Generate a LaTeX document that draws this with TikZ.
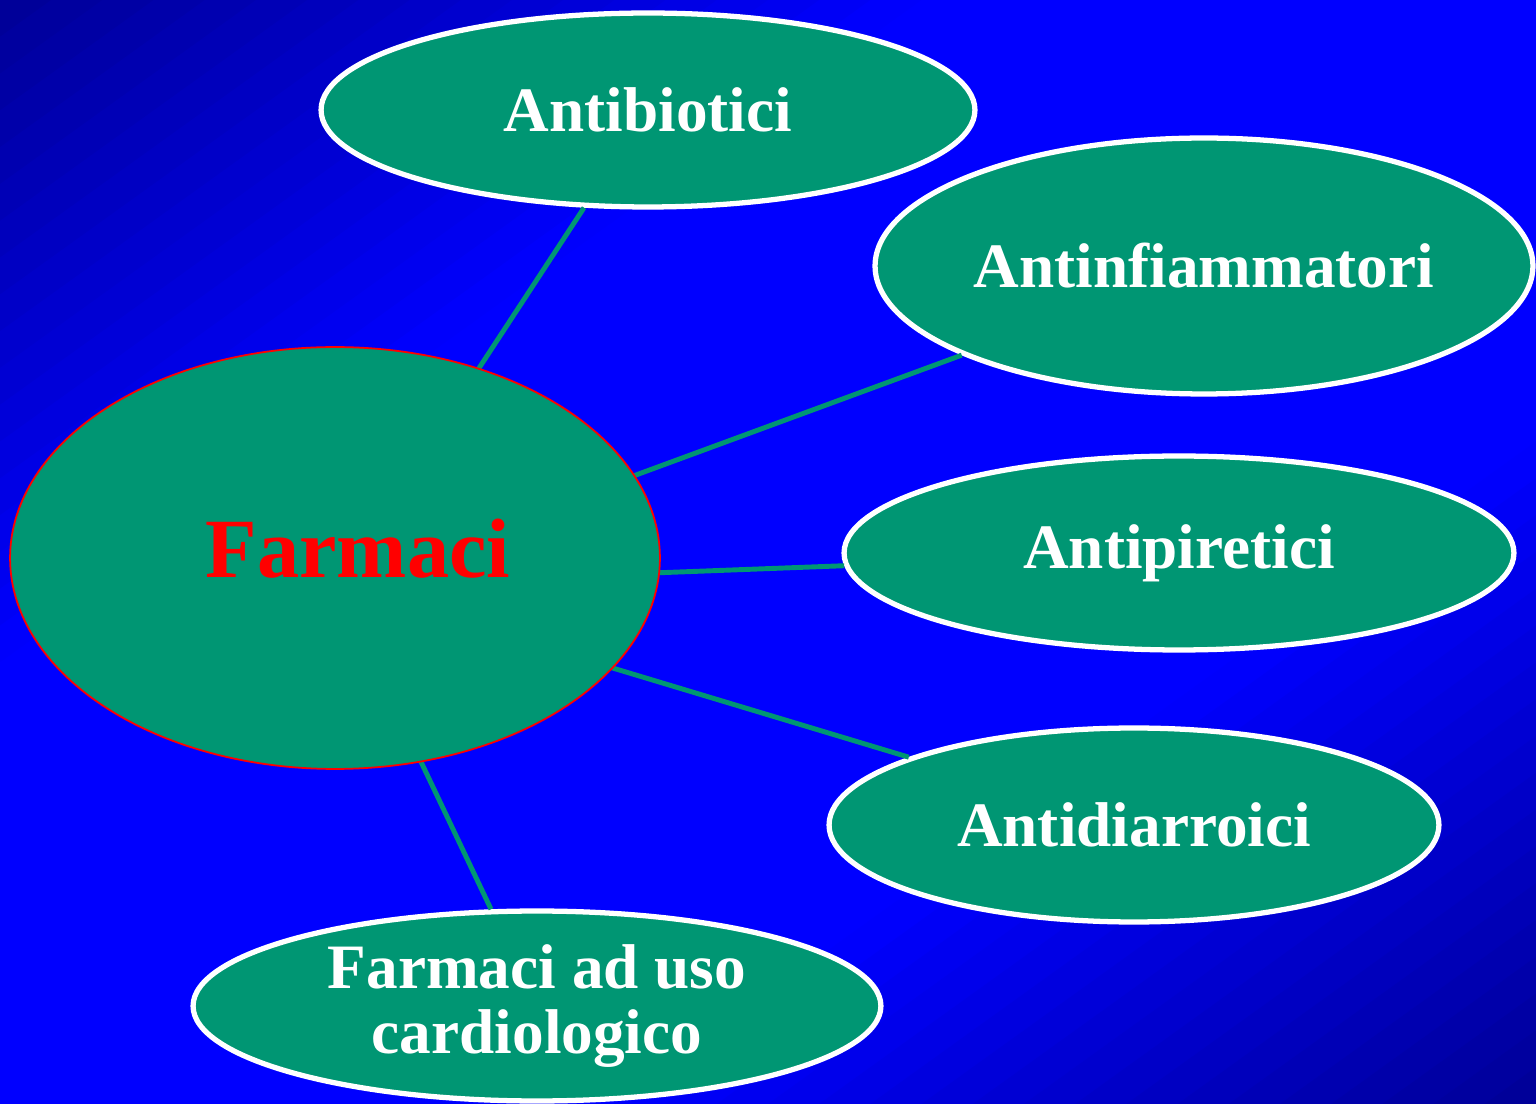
\documentclass[tikz,border=0pt]{standalone}
\usepackage{fontspec}
\setmainfont{Liberation Serif}
\usetikzlibrary{shapes.geometric}
\definecolor{farmgreen}{RGB}{0,150,115}
\definecolor{darkblue}{RGB}{0,0,150}
\definecolor{brightblue}{RGB}{0,0,255}
\tikzset{
  cat/.style={ellipse, draw=white, line width=3pt, fill=farmgreen, text=white,
    font=\fontsize{36}{37.5}\selectfont\bfseries, inner sep=0pt, align=center},
  link/.style={draw=farmgreen, line width=2.8pt}
}
\begin{document}
\begin{tikzpicture}[x=0.02cm, y=-0.02cm]
      \useasboundingbox (0,0) rectangle (1536,1104);
      \clip (0,0) rectangle (1536,1104);
      % background: dark in two corners, bright along the other diagonal
      \foreach \i in {0,...,59}{
        \pgfmathsetmacro\ca{\i/30}
        \pgfmathsetmacro\cb{(\i+1.1)/30}
        \pgfmathsetmacro\pc{min(100,100*(1-abs((\i+0.5)/30-1))/0.6)}
        \fill[brightblue!\pc!darkblue] ({\ca*1536+1536},-1104) -- ({\ca*1536-3*1536},3312)
          -- ({\cb*1536-3*1536},3312) -- ({\cb*1536+1536},-1104) -- cycle;
      }

      \node[cat, minimum width=13.08cm, minimum height=3.88cm] (Abio) at (648,110) {Antibiotici};
      \node[cat, minimum width=13.16cm, minimum height=5.12cm] (Ainf) at (1204,266) {Antinfiammatori};
      \node[cat, minimum width=13.4cm, minimum height=3.88cm] (Apir) at (1179,553) {Antipiretici};
      \node[cat, minimum width=12.2cm, minimum height=3.88cm] (Adia) at (1134,825) {Antidiarroici};
      \node[cat, minimum width=13.76cm, minimum height=3.8cm] (Fcard) at (537,1006) {Farmaci ad uso\\cardiologico};

      \coordinate (hub) at (337,585);
      \foreach \n in {Abio,Ainf,Apir,Adia,Fcard}
        \draw[link] (node cs:name=hub) -- (node cs:name=\n);

      \node[ellipse, draw=red, line width=1pt, fill=farmgreen, minimum width=13cm, minimum height=8.44cm,
        label={[text=red, font=\fontsize{48}{50}\selectfont\bfseries, xshift=0.46cm, yshift=0.18cm]center:Farmaci}] (Farm) at (335,558) {};
    \end{tikzpicture}
\end{document}
